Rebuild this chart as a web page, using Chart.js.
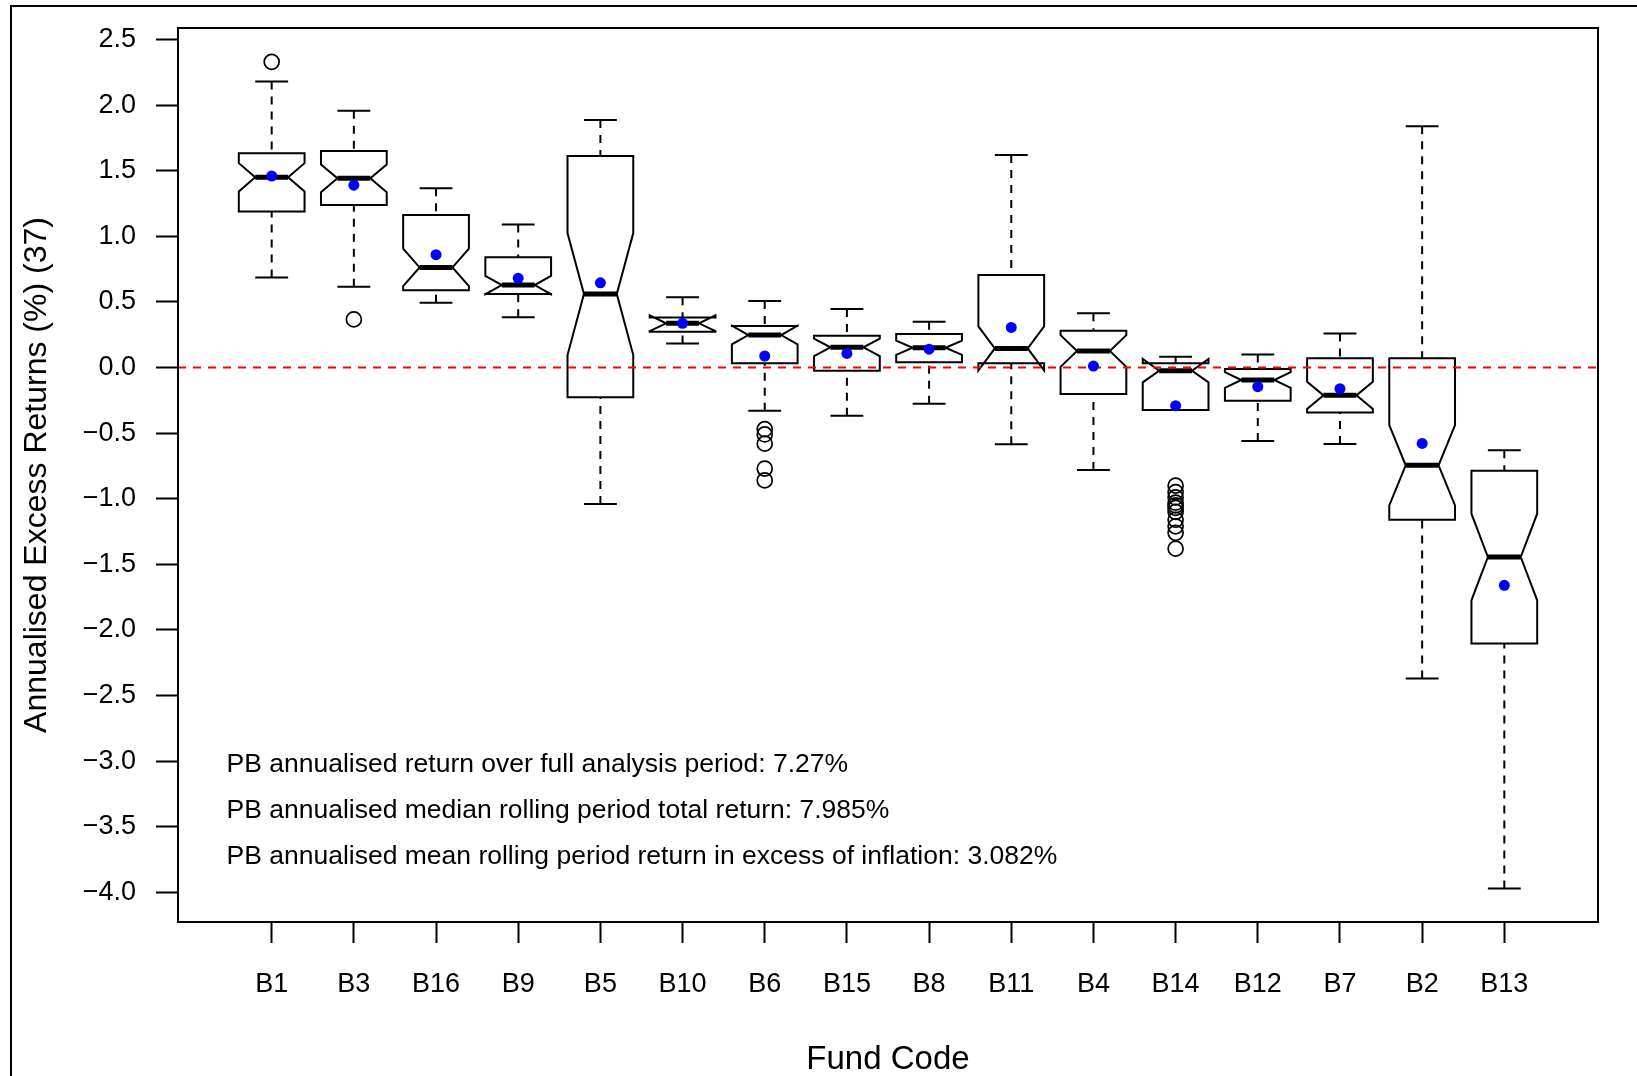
<!DOCTYPE html>
<html>
<head>
<meta charset="utf-8">
<script src="https://cdn.jsdelivr.net/npm/chart.js@4.4.1/dist/chart.umd.min.js"></script>
<style>
  html, body { margin: 0; padding: 0; background: #fff; }
  canvas { display: block; }
</style>
</head>
<body>
<canvas id="boxChart" width="1637" height="1076"></canvas>
<script>
// fund codes, in plotted order
const categories = ['B1', 'B3', 'B16', 'B9', 'B5', 'B10', 'B6', 'B15', 'B8', 'B11', 'B4', 'B14', 'B12', 'B7', 'B2', 'B13'];

// box statistics (annualised excess return, %)
const whiskerHigh = [2.18, 1.957, 1.366, 1.09, 1.886, 0.535, 0.507, 0.446, 0.349, 1.62, 0.413, 0.082, 0.10, 0.26, 1.84, -0.63];
const q3 = [1.633, 1.65, 1.162, 0.84, 1.612, 0.382, 0.316, 0.243, 0.255, 0.705, 0.281, 0.032, -0.012, 0.07, 0.07, -0.787];
const medians = [1.45, 1.442, 0.763, 0.629, 0.56, 0.337, 0.248, 0.154, 0.151, 0.146, 0.126, -0.024, -0.095, -0.212, -0.745, -1.444];
const q1 = [1.19, 1.239, 0.59, 0.56, -0.227, 0.273, 0.032, -0.024, 0.04, 0.032, -0.202, -0.324, -0.253, -0.342, -1.16, -2.103];
const whiskerLow = [0.687, 0.616, 0.494, 0.383, -1.04, 0.184, -0.33, -0.367, -0.276, -0.585, -0.781, -0.324, -0.56, -0.583, -2.37, -3.97];
const notchHalf = [0.108, 0.105, 0.143, 0.07, 0.465, 0.06, 0.071, 0.067, 0.054, 0.168, 0.121, 0.089, 0.06, 0.103, 0.306, 0.33];
const means = [1.46, 1.39, 0.86, 0.68, 0.646, 0.337, 0.088, 0.108, 0.14, 0.306, 0.011, -0.291, -0.146, -0.161, -0.578, -1.66];
const outliers = [
    [2.33], [0.367], [], [], [], [],
    [-0.47, -0.51, -0.58, -0.77, -0.86],
    [], [], [], [],
    [-0.90, -0.95, -0.99, -1.03, -1.05, -1.07, -1.10, -1.16, -1.21, -1.26, -1.38],
    [], [], [], []
];

// axis tick values
const yTicks = [2.5, 2.0, 1.5, 1.0, 0.5, 0.0, -0.5, -1.0, -1.5, -2.0, -2.5, -3.0, -3.5, -4.0];

// annotation lines
const notes = [
    'PB annualised return over full analysis period: 7.27%',
    'PB annualised median rolling period total return: 7.985%',
    'PB annualised mean rolling period return in excess of inflation: 3.082%'
];

const FONT = '"Liberation Sans", Arial, sans-serif';
Chart.defaults.font.family = FONT;
Chart.defaults.color = '#000';

// draws the notched boxes the way R's bxp() does
const notchedBoxes = {
    id: 'notchedBoxes',
    beforeDatasetsDraw(chart) {
        const ctx = chart.ctx;
        const xs = chart.scales.x;
        const ys = chart.scales.y;
        const area = chart.chartArea;
        const wex = xs.getPixelForValue(0.4) - xs.getPixelForValue(0);
        const py = v => ys.getPixelForValue(v);

        ctx.save();
        ctx.strokeStyle = '#000';
        categories.forEach((c, i) => {
            const cx = xs.getPixelForValue(i + 1);

            // dashed whiskers
            ctx.lineWidth = 2;
            ctx.setLineDash([8, 7]);
            ctx.beginPath();
            ctx.moveTo(cx, py(whiskerLow[i]));
            ctx.lineTo(cx, py(q1[i]));
            ctx.moveTo(cx, py(whiskerHigh[i]));
            ctx.lineTo(cx, py(q3[i]));
            ctx.stroke();
            ctx.setLineDash([]);

            // staples
            ctx.beginPath();
            ctx.moveTo(cx - wex / 2, py(whiskerLow[i]));
            ctx.lineTo(cx + wex / 2, py(whiskerLow[i]));
            ctx.moveTo(cx - wex / 2, py(whiskerHigh[i]));
            ctx.lineTo(cx + wex / 2, py(whiskerHigh[i]));
            ctx.stroke();

            // notched box polygon
            const c1 = medians[i] - notchHalf[i];
            const c2 = medians[i] + notchHalf[i];
            const fx = [-1, 1, 1, 0.5, 1, 1, -1, -1, -0.5, -1];
            const fy = [q1[i], q1[i], c1, medians[i], c2, q3[i], q3[i], c2, medians[i], c1];
            ctx.beginPath();
            fx.forEach((f, k) => {
                const X = cx + f * wex, Y = py(fy[k]);
                if (k === 0) ctx.moveTo(X, Y); else ctx.lineTo(X, Y);
            });
            ctx.closePath();
            ctx.lineJoin = 'miter';
            ctx.stroke();

            // median
            ctx.lineWidth = 5;
            ctx.beginPath();
            ctx.moveTo(cx - wex / 2, py(medians[i]));
            ctx.lineTo(cx + wex / 2, py(medians[i]));
            ctx.stroke();
        });

        // red zero line
        ctx.strokeStyle = '#ff0000';
        ctx.lineWidth = 2;
        ctx.setLineDash([8, 7]);
        ctx.beginPath();
        ctx.moveTo(area.left, py(0));
        ctx.lineTo(area.right, py(0));
        ctx.stroke();
        ctx.restore();
    },
    afterDraw(chart) {
        const ctx = chart.ctx;
        const xs = chart.scales.x;
        const ys = chart.scales.y;
        const area = chart.chartArea;
        ctx.save();
        // plot frame
        ctx.strokeStyle = '#000';
        ctx.lineWidth = 2;
        ctx.strokeRect(area.left, area.top, area.right - area.left, area.bottom - area.top);
        // outer picture border
        ctx.strokeRect(11, 6, chart.width + 20, chart.height + 20);

        // notes
        ctx.fillStyle = '#000';
        ctx.font = '26.5px ' + FONT;
        ctx.textAlign = 'left';
        ctx.textBaseline = 'middle';
        const noteY = [-3.03, -3.38, -3.73];
        notes.forEach((t, k) => {
            ctx.fillText(t, xs.getPixelForValue(0.45), ys.getPixelForValue(noteY[k]));
        });
        ctx.restore();
    }
};

const meanPoints = means.map((m, i) => ({ x: i + 1, y: m }));
const outlierPoints = [];
outliers.forEach((list, i) => list.forEach(v => outlierPoints.push({ x: i + 1, y: v })));

const ctxBox = document.getElementById('boxChart').getContext('2d');
const boxChart = new Chart(ctxBox, {
    type: 'scatter',
    data: {
        datasets: [{
            label: 'Mean',
            data: meanPoints,
            pointRadius: 5.5,
            pointBackgroundColor: '#0000ff',
            pointBorderWidth: 0
        }, {
            label: 'Outliers',
            data: outlierPoints,
            pointRadius: 7.5,
            pointBackgroundColor: 'rgba(0,0,0,0)',
            pointBorderColor: '#000',
            pointBorderWidth: 1.7
        }]
    },
    options: {
        responsive: false,
        animation: false,
        layout: { padding: { left: 0, right: 39, top: 28, bottom: 0 } },
        plugins: {
            legend: { display: false },
            tooltip: { enabled: false }
        },
        scales: {
            x: {
                type: 'linear',
                min: -0.14,
                max: 17.14,
                bounds: 'data',
                offset: false,
                afterBuildTicks: s => { s.ticks = categories.map((c, i) => ({ value: i + 1 })); },
                afterFit: s => { s.height = 154; s.paddingLeft = 0; s.paddingRight = 0; },
                ticks: {
                    autoSkip: false,
                    maxRotation: 0,
                    padding: 25,
                    font: { size: 27 },
                    callback: v => categories[v - 1]
                },
                grid: { drawOnChartArea: false, drawTicks: true, tickLength: 21, tickColor: '#000', tickWidth: 2 },
                border: { display: false },
                title: { display: true, text: 'Fund Code', font: { size: 33, lineHeight: 1.0 }, padding: { top: 0, bottom: 0 } }
            },
            y: {
                type: 'linear',
                min: -4.226,
                max: 2.588,
                bounds: 'data',
                afterBuildTicks: s => { s.ticks = yTicks.map(v => ({ value: v })); },
                afterFit: s => { s.width = 178; s.paddingTop = 0; s.paddingBottom = 0; },
                ticks: {
                    padding: 20,
                    font: { size: 27 },
                    callback: v => v.toFixed(1).replace('-', '\u2212')
                },
                grid: { drawOnChartArea: false, drawTicks: true, tickLength: 22, tickColor: '#000', tickWidth: 2 },
                border: { display: false },
                title: { display: true, text: 'Annualised Excess Returns (%) (37)', font: { size: 32 }, padding: { top: 18, bottom: 0 } }
            }
        }
    },
    plugins: [notchedBoxes]
});
</script>
</body>
</html>
